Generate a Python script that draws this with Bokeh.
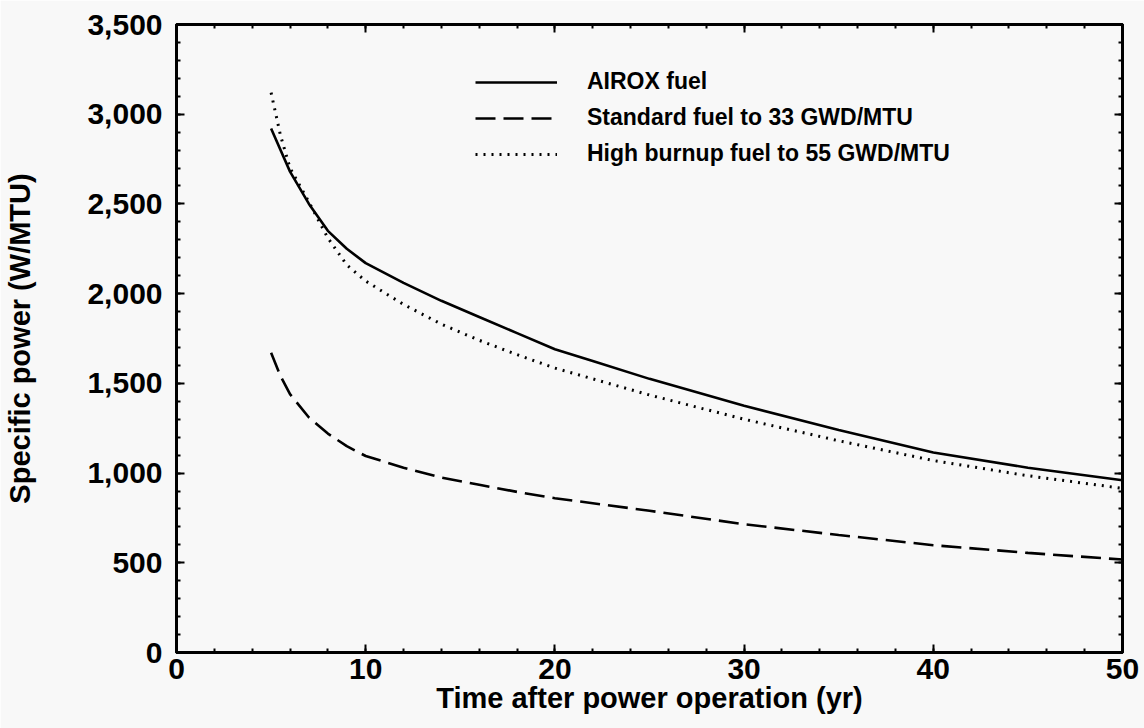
from bokeh.plotting import figure
from bokeh.models import (Range1d, LinearAxis, SingleIntervalTicker, NumeralTickFormatter,
                          CustomJSTickFormatter, Legend, LegendItem)
from bokeh.embed import file_html
from bokeh.resources import INLINE

# ---- data ----
years_airox = [5, 6, 7, 8, 9, 10, 12, 14, 16, 18, 20, 22, 25, 30, 35, 40, 45, 50]
power_airox = [2920, 2680, 2500, 2350, 2250, 2170, 2060, 1960, 1870, 1780, 1690, 1625, 1525, 1375, 1240, 1115, 1030, 960]

years_standard = [5, 5.5, 6, 7, 8, 9, 10, 12, 14, 16, 18, 20, 25, 30, 35, 40, 45, 50]
power_standard = [1670, 1540, 1440, 1310, 1220, 1150, 1095, 1030, 975, 935, 895, 860, 790, 715, 655, 598, 555, 518]

years_high = [5, 5.5, 6, 7, 8, 9, 10, 12, 14, 16, 18, 20, 22, 25, 30, 35, 40, 45, 50]
power_high = [3120, 2880, 2700, 2510, 2310, 2160, 2070, 1940, 1830, 1740, 1660, 1585, 1525, 1435, 1300, 1180, 1070, 985, 915]

labels = ["AIROX fuel", "Standard fuel to 33 GWD/MTU", "High burnup fuel to 55 GWD/MTU"]

x_label = "Time after power operation (yr)"
y_label = "Specific power (W/MTU)"

FONT = "Liberation Sans"
BG = "#f8f8f8"

p = figure(width=1144, height=728, output_backend="svg", toolbar_location=None,
           x_range=Range1d(0, 50), y_range=Range1d(0, 3500),
           min_border_left=176, min_border_right=22, min_border_top=24, min_border_bottom=76,
           background_fill_color=BG, border_fill_color=BG)

p.xgrid.visible = False
p.ygrid.visible = False
p.outline_line_color = "black"
p.outline_line_width = 3

xt = SingleIntervalTicker(interval=10, num_minor_ticks=5)
yt = SingleIntervalTicker(interval=500, num_minor_ticks=5)

p.xaxis.ticker = xt
p.yaxis.ticker = yt
p.yaxis.formatter = NumeralTickFormatter(format="0,0")

for ax in (p.xaxis[0], p.yaxis[0]):
    ax.axis_line_width = 3
    ax.major_tick_in = 8
    ax.major_tick_out = 0
    ax.minor_tick_in = 4
    ax.minor_tick_out = 0
    ax.major_tick_line_width = 2
    ax.minor_tick_line_width = 2
    ax.major_label_text_font = FONT
    ax.major_label_text_font_style = "bold"
    ax.major_label_text_font_size = "30px"
    ax.major_label_text_color = "black"
    ax.axis_label_text_font = FONT
    ax.axis_label_text_font_style = "bold"
    ax.axis_label_text_font_size = "29px"
    ax.axis_label_text_color = "black"

p.xaxis.axis_label = x_label
p.yaxis.axis_label = y_label
p.xaxis.major_label_standoff = 6
p.xaxis.axis_label_standoff = 0
p.yaxis.major_label_standoff = 14
p.yaxis.axis_label_standoff = 48

blank = CustomJSTickFormatter(code="return ''")
top = LinearAxis(ticker=xt, formatter=blank)
right = LinearAxis(ticker=yt, formatter=blank)
for ax in (top, right):
    ax.axis_line_width = 3
    ax.major_tick_in = 8
    ax.major_tick_out = 0
    ax.minor_tick_in = 4
    ax.minor_tick_out = 0
    ax.major_tick_line_width = 2
    ax.minor_tick_line_width = 2
    ax.major_label_text_font_size = "1px"
    ax.major_label_standoff = 0
p.add_layout(top, "above")
p.add_layout(right, "right")

r1 = p.line(years_airox, power_airox, line_color="black", line_width=2.6)
r2 = p.line(years_standard, power_standard, line_color="black", line_width=2.6, line_dash="20 8")
r3 = p.line(years_high, power_high, line_color="black", line_width=3, line_dash="2 6")

legend = Legend(items=[LegendItem(label=labels[0], renderers=[r1]),
                       LegendItem(label=labels[1], renderers=[r2]),
                       LegendItem(label=labels[2], renderers=[r3])],
                location=(299, 485))
legend.border_line_color = None
legend.background_fill_alpha = 0
legend.padding = 0
legend.margin = 0
legend.glyph_width = 82
legend.glyph_height = 20
legend.label_height = 20
legend.label_standoff = 30
legend.spacing = 9
legend.label_text_font = FONT
legend.label_text_font_style = "bold"
legend.label_text_font_size = "23px"
legend.label_text_color = "black"
p.add_layout(legend, "center")

open("out.html", "w").write(file_html(p, INLINE))
